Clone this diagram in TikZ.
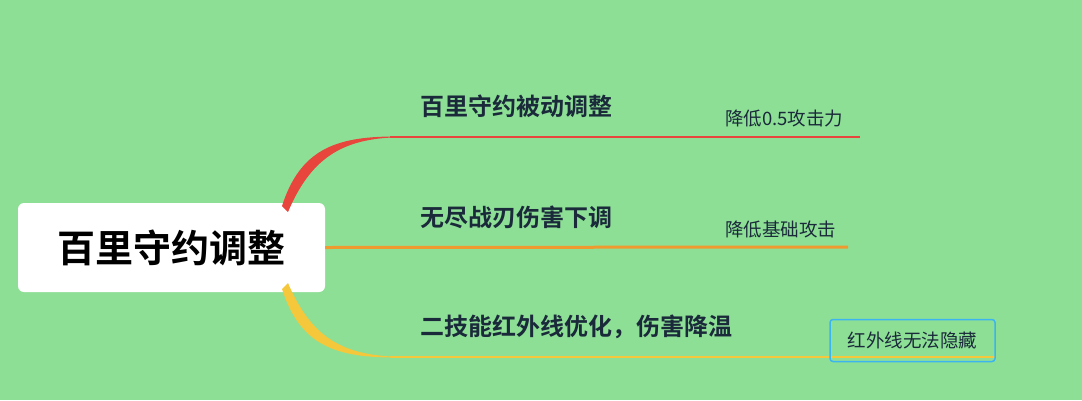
\documentclass[tikz,border=0pt]{standalone}
\usepackage{fontspec}
\setmainfont{Noto Sans CJK SC}
\newfontfamily\cjkb{Noto Sans CJK SC Bold}
\definecolor{bg}{HTML}{8EDF96}
\definecolor{rd}{HTML}{E8453C}
\definecolor{og}{HTML}{EE9A2E}
\definecolor{yl}{HTML}{F5C73A}
\definecolor{bl}{HTML}{3CB4F0}
\definecolor{tx}{HTML}{1A2A3A}
\begin{document}
\begin{tikzpicture}[x=1pt,y=-1pt,
  main/.style={fill=white,rounded corners=6pt,minimum width=307pt,minimum height=89pt,font=\fontsize{38}{44}\cjkb,text=black},
  topic/.style={anchor=west,font=\fontsize{24}{28}\cjkb,text=tx,inner sep=0pt},
  sub/.style={anchor=west,font=\fontsize{18.5}{22}\selectfont,text=tx,inner sep=0pt}]
\useasboundingbox[fill=bg] (0,0) rectangle (1082,400);
\node[main] (c) at (171.5,247.5) {百里守约调整};
% branch 1
\fill[rd] (288,212) .. controls (310,160) and (340,140) .. (392,137.5)
  -- (392,136.5) .. controls (335,137) and (300,150) .. (282,206) -- cycle;
\coordinate (e1) at (860,137);
\draw[rd,line width=2pt] (390,137) -- (e1);
% branch 2
\coordinate (e2) at (848,247);
\draw[og,line width=3pt] (c.east) -- (e2);
% branch 3
\fill[yl] (282,289) .. controls (300,345) and (335,357) .. (392,357.5)
  -- (392,356.5) .. controls (340,354) and (310,335) .. (288,283) -- cycle;
\coordinate (e3) at (995,357);
\draw[yl,line width=2pt] (390,357) -- (e3);
\node[topic] (t1) at (420,106) {百里守约被动调整};
\node[topic] (t2) at (420,217) {无尽战刃伤害下调};
\node[topic] (t3) at (420,327) {二技能红外线优化，伤害降温};
\node[sub] (s1) at (725,118) {降低0.5攻击力};
\node[sub] (s2) at (725,229) {降低基础攻击};
\node[draw=bl,line width=1.5pt,rounded corners=3pt,minimum width=165pt,minimum height=42pt,font=\fontsize{18.5}{22}\selectfont,text=tx] (s3) at (912.5,340.5) {红外线无法隐藏};
\end{tikzpicture}
\end{document}
